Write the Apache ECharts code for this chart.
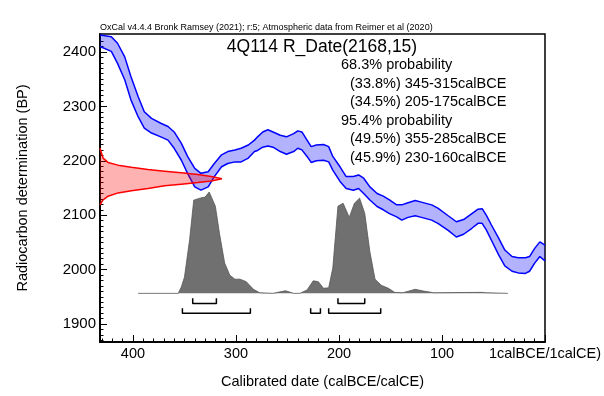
<!DOCTYPE html>
<html>
<head>
<meta charset="utf-8">
<script src="https://cdn.jsdelivr.net/npm/echarts@6/dist/echarts.min.js"></script>
<style>
  html, body { margin: 0; padding: 0; background: #fff; }
  #chart { width: 604px; height: 396px; }
</style>
</head>
<body>
<div id="chart"></div>
<script>
// calibration curve (calBCE, upper / lower BP of the 1-sigma band)
var calYears = [432, 421, 415, 408, 402, 395, 389, 382, 373, 366, 360, 353, 347, 340, 334, 327, 321, 314, 308, 301,
  295, 288, 282, 279, 274, 269, 264, 257, 251, 244, 240, 236, 231, 227, 222, 215, 210, 206, 199, 193,
  186, 181, 176, 170, 163, 157, 151, 144, 139, 133, 126, 120, 110, 104, 94, 86, 79, 71, 65, 61,
  57, 52, 45, 39, 32, 26, 19, 15, 10, 5, 0];
var calHi = [2431, 2428, 2416, 2391, 2355, 2318, 2290, 2278, 2269, 2263, 2253, 2232, 2208, 2186, 2177, 2180, 2195, 2211, 2217, 2220,
  2223, 2229, 2238, 2244, 2253, 2257, 2253, 2247, 2244, 2250, 2255, 2253, 2238, 2226, 2229, 2230, 2226, 2208, 2189, 2171,
  2171, 2174, 2168, 2152, 2140, 2135, 2128, 2119, 2119, 2123, 2127, 2124, 2119, 2113, 2099, 2088, 2092, 2103, 2111, 2112,
  2100, 2082, 2058, 2036, 2024, 2022, 2022, 2024, 2039, 2051, 2045];
var calLo = [2410, 2401, 2379, 2349, 2312, 2281, 2260, 2251, 2244, 2238, 2223, 2201, 2177, 2152, 2146, 2152, 2171, 2189, 2195, 2198,
  2198, 2205, 2217, 2219, 2225, 2227, 2225, 2217, 2212, 2217, 2223, 2220, 2208, 2197, 2200, 2201, 2198, 2183, 2162, 2149,
  2146, 2149, 2140, 2128, 2116, 2110, 2103, 2097, 2091, 2096, 2099, 2096, 2091, 2085, 2072, 2060, 2065, 2076, 2085, 2085,
  2073, 2054, 2027, 2007, 1997, 1994, 1993, 1997, 2012, 2024, 2016];

// measured date R_Date(2168,15), relative density
var likeBP = [2223, 2205, 2197, 2192, 2188, 2184, 2181, 2178, 2175, 2171, 2167, 2163, 2160, 2157, 2154, 2149, 2145, 2141, 2135, 2128, 2119];
var likeDens = [0, 0.025, 0.066, 0.148, 0.257, 0.393, 0.53, 0.666, 0.803, 0.912, 1, 0.912, 0.803, 0.666, 0.53, 0.393, 0.257, 0.148, 0.066, 0.025, 0];

// calibrated distribution (relative, peak = 100)
var postYears = [395, 356, 353, 350, 345, 341, 335, 330, 326, 320, 316, 311, 306, 301, 296, 290, 283, 277, 264, 252,
  244, 238, 231, 225, 220, 215, 210, 206, 201, 196, 190, 185, 180, 175, 170, 165, 159, 152, 146, 138,
  126, 118, 108, 62, 57, 36];
var postProb = [0, 0, 6.5, 16, 53, 92, 94, 95, 100, 86, 59, 30, 18, 14, 14, 11.5, 4, 0.6, 0, 2.6,
  0, 0, 3.3, 12.4, 11.5, 5, 5.5, 25, 86, 89, 75, 89, 94, 79, 41, 14, 8, 5, 1, 0.6,
  4, 2.3, 0.6, 1, 0.6, 0];

// ranges (calBCE)
var range68 = [[342, 319], [201, 175]];
var range95 = [[352, 286], [227.5, 218], [210, 159.5]];

var xMajor = [0, 100, 200, 300, 400];
var yMajor = [1900, 2000, 2100, 2200, 2300, 2400];

var headerText = 'OxCal v4.4.4 Bronk Ramsey (2021); r:5; Atmospheric data from Reimer et al (2020)';
var titleText = '4Q114 R_Date(2168,15)';
var summaryLines = [
  ['68.3% probability', 0],
  ['(33.8%) 345-315calBCE', 1],
  ['(34.5%) 205-175calBCE', 1],
  ['95.4% probability', 0],
  ['(49.5%) 355-285calBCE', 1],
  ['(45.9%) 230-160calBCE', 1]
];

var FONT = 'Liberation Sans, Arial, sans-serif';

var xMinor = [];
for (var v = 10; v < 432; v += 10) xMinor.push(v);
var yMinor = [];
for (var w = 1870; w <= 2430; w += 10) yMinor.push(w);

var chart = echarts.init(document.getElementById('chart'));

var series = [];

// posterior (grey)
series.push({
  type: 'line', xAxisIndex: 0, yAxisIndex: 1, symbol: 'none', z: 2,
  data: postYears.map(function (y, i) { return [y, postProb[i]]; }),
  lineStyle: { color: '#555', width: 0.8 },
  areaStyle: { color: '#707070', opacity: 1 }
});

// calibration band fill
series.push({
  type: 'custom', xAxisIndex: 0, yAxisIndex: 0, z: 3,
  data: [[200, 2200]],
  renderItem: function (params, api) {
    var pts = calYears.map(function (y, i) { return api.coord([y, calHi[i]]); });
    for (var i = calYears.length - 1; i >= 0; i--) pts.push(api.coord([calYears[i], calLo[i]]));
    return { type: 'polygon', shape: { points: pts }, style: { fill: 'rgba(0,0,255,0.3)', stroke: 'none' } };
  }
});
series.push({
  type: 'line', xAxisIndex: 0, yAxisIndex: 0, symbol: 'none', z: 3,
  data: calYears.map(function (y, i) { return [y, calHi[i]]; }),
  lineStyle: { color: '#0000ff', width: 1.5 }
});
series.push({
  type: 'line', xAxisIndex: 0, yAxisIndex: 0, symbol: 'none', z: 3,
  data: calYears.map(function (y, i) { return [y, calLo[i]]; }),
  lineStyle: { color: '#0000ff', width: 1.5 }
});

// measured date (red)
series.push({
  type: 'custom', xAxisIndex: 1, yAxisIndex: 0, z: 4,
  data: [[0, 2168]],
  renderItem: function (params, api) {
    var pts = likeBP.map(function (b, i) { return api.coord([likeDens[i], b]); });
    return { type: 'polygon', shape: { points: pts }, style: { fill: 'rgba(255,0,0,0.3)', stroke: 'none' } };
  }
});
series.push({
  type: 'line', xAxisIndex: 1, yAxisIndex: 0, symbol: 'none', z: 5,
  data: likeBP.map(function (b, i) { return [likeDens[i], b]; }),
  lineStyle: { color: '#ff0000', width: 1.5 }
});

// range brackets
function bracket(r, top, bot) {
  series.push({
    type: 'line', xAxisIndex: 0, yAxisIndex: 1, symbol: 'none', z: 5,
    data: [[r[0], top], [r[0], bot], [r[1], bot], [r[1], top]],
    lineStyle: { color: '#000', width: 1.5 }
  });
}
range68.forEach(function (r) { bracket(r, -4.9, -9.9); });
range95.forEach(function (r) { bracket(r, -14.8, -19.7); });

var graphics = [
  { type: 'text', left: 100, top: 23.5, style: { text: headerText, font: '9px ' + FONT, fill: '#000' } },
  { type: 'text', x: 322, y: 38.5, style: { text: titleText, font: '17.5px ' + FONT, fill: '#000', textAlign: 'center' } }
];
summaryLines.forEach(function (l, i) {
  graphics.push({
    type: 'text', x: l[1] ? 350 : 341, y: 57.5 + i * 18.6,
    style: { text: l[0], font: '14.5px ' + FONT, fill: '#000' }
  });
});

chart.setOption({
  animation: false,
  backgroundColor: '#fff',
  grid: { left: 100, right: 59, top: 34, bottom: 54, show: true, borderColor: '#000', borderWidth: 1.5, backgroundColor: 'transparent' },
  graphic: graphics,
  xAxis: [
    {
      type: 'value', min: 0, max: 432, inverse: true, position: 'bottom',
      splitLine: { show: false },
      axisLine: { onZero: false, lineStyle: { color: '#000', width: 1.5 } },
      axisTick: { inside: true, length: 7, customValues: xMajor, lineStyle: { color: '#000' } },
      axisLabel: {
        customValues: xMajor, color: '#000', fontSize: 14.5, fontFamily: FONT, margin: 4,
        formatter: function (v) { return v === 0 ? '1calBCE/1calCE)' : String(v); }
      },
      name: 'Calibrated date (calBCE/calCE)', nameLocation: 'middle', nameGap: 32,
      nameTextStyle: { color: '#000', fontSize: 14.5, fontFamily: FONT }
    },
    { type: 'value', min: 0, max: 3.65, show: false, position: 'top', axisLine: { onZero: false } },
    {
      type: 'value', min: 0, max: 432, inverse: true, position: 'bottom',
      splitLine: { show: false }, axisLabel: { show: false },
      axisLine: { show: true, onZero: false, lineStyle: { color: '#000', width: 1.5 } },
      axisTick: { show: true, inside: true, length: 3.5, customValues: xMinor, lineStyle: { color: '#000' } }
    }
  ],
  yAxis: [
    {
      type: 'value', min: 1867, max: 2433, position: 'left',
      splitLine: { show: false },
      axisLine: { show: true, onZero: false, lineStyle: { color: '#000', width: 1.5 } },
      axisTick: { show: true, inside: true, length: 7, customValues: yMajor, lineStyle: { color: '#000' } },
      axisLabel: {
        customValues: yMajor, color: '#000', fontSize: 15, fontFamily: FONT, margin: 4,
        formatter: function (v) { return String(v); }
      },
      name: 'Radiocarbon determination (BP)', nameLocation: 'middle', nameGap: 70,
      nameTextStyle: { color: '#000', fontSize: 14.5, fontFamily: FONT }
    },
    { type: 'value', min: -48, max: 256, show: false, position: 'right', axisLine: { onZero: false } },
    {
      type: 'value', min: 1867, max: 2433, position: 'left',
      splitLine: { show: false }, axisLabel: { show: false },
      axisLine: { show: true, onZero: false, lineStyle: { color: '#000', width: 1.5 } },
      axisTick: { show: true, inside: true, length: 3.5, customValues: yMinor, lineStyle: { color: '#000' } }
    }
  ],
  series: series
});
</script>
</body>
</html>
